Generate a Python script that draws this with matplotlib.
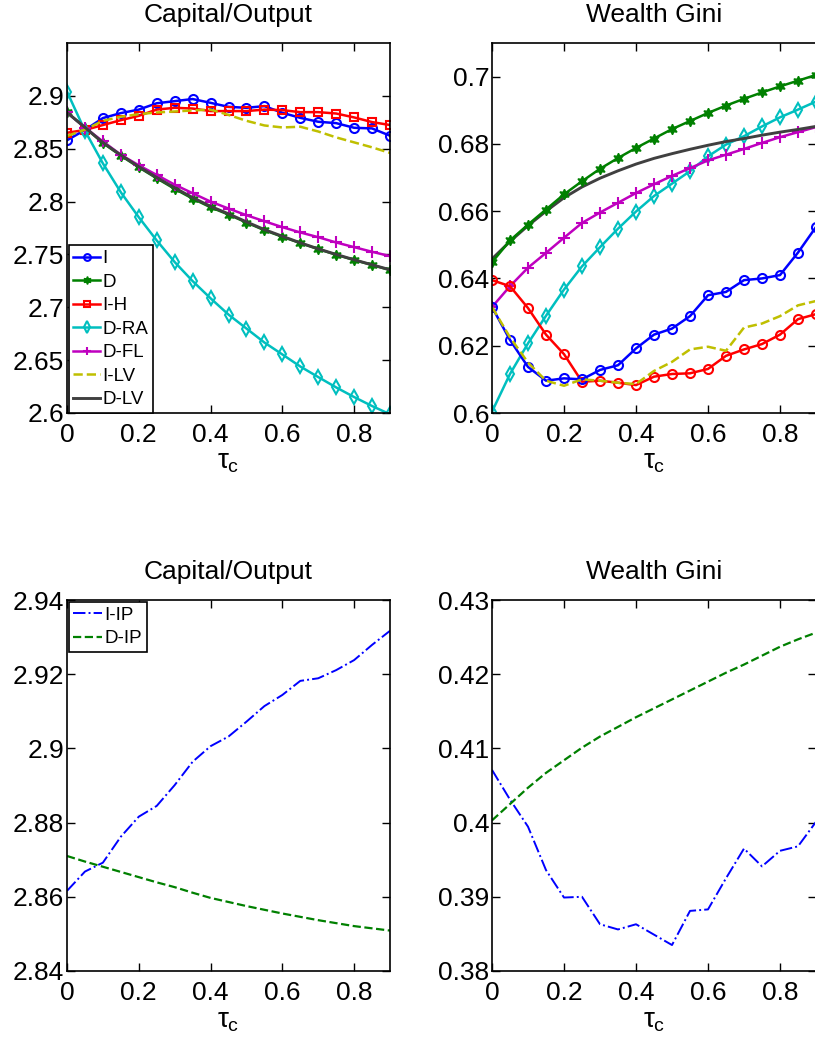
import matplotlib.pyplot as plt
import numpy as np

plt.rcParams['font.family'] = ['Liberation Sans', 'DejaVu Sans']
plt.rcParams['mathtext.fontset'] = 'custom'
plt.rcParams['mathtext.rm'] = 'Liberation Sans'
plt.rcParams['mathtext.it'] = 'Liberation Sans'
plt.rcParams['mathtext.sf'] = 'Liberation Sans'

# tax rate on consumption
tau = [0, 0.05, 0.1, 0.15, 0.2, 0.25, 0.3, 0.35, 0.4, 0.45,
       0.5, 0.55, 0.6, 0.65, 0.7, 0.75, 0.8, 0.85, 0.9]
xticks = [0, 0.2, 0.4, 0.6, 0.8]
xticklabels = ['0', '0.2', '0.4', '0.6', '0.8']

# top row: capital/output
ky_I = [2.858, 2.8677, 2.879, 2.8837, 2.887, 2.893, 2.895, 2.897, 2.8934, 2.8896,
        2.8887, 2.8903, 2.884, 2.8792, 2.8755, 2.8742, 2.8698, 2.8692, 2.8623]
ky_D = [2.8843, 2.870, 2.8554, 2.8434, 2.8324, 2.822, 2.812, 2.8028, 2.7946, 2.7877,
        2.7802, 2.7729, 2.7667, 2.7607, 2.755, 2.7497, 2.7447, 2.740, 2.7352]
ky_IH = [2.8651, 2.8677, 2.8724, 2.877, 2.8811, 2.887, 2.8887, 2.888, 2.8856, 2.8856,
         2.8856, 2.887, 2.8865, 2.8846, 2.8846, 2.8833, 2.8796, 2.8752, 2.8724]
ky_DRA = [2.904, 2.867, 2.8361, 2.8088, 2.7852, 2.7632, 2.7428, 2.7248, 2.7085, 2.6931,
          2.6799, 2.6667, 2.6554, 2.644, 2.634, 2.6242, 2.6151, 2.6066, 2.5988]
ky_DFL = [2.8843, 2.870, 2.8569, 2.8443, 2.8343, 2.8252, 2.816, 2.8079, 2.800, 2.7934,
          2.7871, 2.7814, 2.7758, 2.7708, 2.7663, 2.7613, 2.7569, 2.7525, 2.7484]
ky_ILV = [2.862, 2.868, 2.8764, 2.8802, 2.8827, 2.8843, 2.8852, 2.8862, 2.887, 2.882,
          2.8764, 2.872, 2.8701, 2.8708, 2.8663, 2.8607, 2.856, 2.8513, 2.846]
ky_DLV = [2.8843, 2.8702, 2.8558, 2.8440, 2.8330, 2.8228, 2.8130, 2.8038, 2.7955, 2.7884,
          2.7808, 2.7735, 2.7672, 2.7610, 2.7553, 2.7500, 2.7450, 2.7402, 2.7355]

# top row: wealth gini
gini_I = [0.6315, 0.6217, 0.6137, 0.6096, 0.6103, 0.610, 0.6128, 0.6142, 0.6192, 0.6233,
          0.6251, 0.6288, 0.635, 0.636, 0.6395, 0.640, 0.641, 0.6477, 0.6553]
gini_D = [0.6448, 0.6513, 0.656, 0.6605, 0.665, 0.6689, 0.6726, 0.6758, 0.6788, 0.6816,
          0.6844, 0.6868, 0.6892, 0.6914, 0.6934, 0.6953, 0.6971, 0.6988, 0.7005]
gini_IH = [0.6395, 0.6377, 0.6312, 0.6233, 0.6175, 0.6093, 0.6096, 0.609, 0.6083, 0.6108,
           0.6116, 0.6118, 0.6131, 0.617, 0.6189, 0.6205, 0.6233, 0.6279, 0.6294]
gini_DRA = [0.6004, 0.6116, 0.6207, 0.6289, 0.6367, 0.6436, 0.6493, 0.6548, 0.6599, 0.6645,
            0.6682, 0.6719, 0.6763, 0.6798, 0.6823, 0.6852, 0.6879, 0.6902, 0.6926]
gini_DFL = [0.6315, 0.6377, 0.6432, 0.6476, 0.6521, 0.6565, 0.6596, 0.6625, 0.6654, 0.668,
            0.6705, 0.6728, 0.6751, 0.6768, 0.6785, 0.6803, 0.682, 0.6835, 0.685]
gini_ILV = [0.6315, 0.6225, 0.615, 0.6096, 0.6081, 0.610, 0.6096, 0.609, 0.6086, 0.6125,
            0.6152, 0.6189, 0.6197, 0.6185, 0.6254, 0.6266, 0.6288, 0.632, 0.6333]
gini_DLV = [0.6458, 0.651, 0.6557, 0.660, 0.664, 0.6672, 0.6698, 0.672, 0.674, 0.6757,
            0.6771, 0.6784, 0.6796, 0.6807, 0.6816, 0.6826, 0.6835, 0.6843, 0.6852]

# bottom row: idiosyncratic productivity
ky_IIP = [2.8616, 2.8668, 2.8692, 2.8762, 2.8816, 2.8845, 2.8901, 2.8964, 2.9006, 2.9032,
          2.9072, 2.9114, 2.9144, 2.9182, 2.9189, 2.9211, 2.9238, 2.9279, 2.9317]
ky_DIP = [2.871, 2.8695, 2.8681, 2.8667, 2.8653, 2.8639, 2.8626, 2.8611, 2.8597, 2.8586,
          2.8575, 2.8565, 2.8555, 2.8546, 2.8537, 2.8529, 2.8521, 2.8515, 2.8509]
gini_IIP = [0.4071, 0.4031, 0.39945, 0.3936, 0.3899, 0.390, 0.3863, 0.3856, 0.3863, 0.3849,
            0.3835, 0.3881, 0.3883, 0.3925, 0.3965, 0.3941, 0.3962, 0.3968, 0.4001]
gini_DIP = [0.4003, 0.4025, 0.4047, 0.4067, 0.4084, 0.4101, 0.4116, 0.4129, 0.4142, 0.4154,
            0.4166, 0.4178, 0.419, 0.4202, 0.4213, 0.4225, 0.4237, 0.4247, 0.4256]

blue = (0, 0, 1)
green = (0, 0.5, 0)
red = (1, 0, 0)
cyan = (0, 0.75, 0.75)
magenta = (0.75, 0, 0.75)
yellow = (0.75, 0.75, 0)
gray = (0.25, 0.25, 0.25)
hexagram = (6, 1, 0)

W, H = 815, 1040
fig = plt.figure(figsize=(W / 100, H / 100), dpi=100)


def make_axes(x0, y0, x1, y1):
    # pixel box (left, top, right, bottom) -> figure fraction
    return fig.add_axes([x0 / W, 1 - y1 / H, (x1 - x0) / W, (y1 - y0) / H])


def style(ax, title, ylim, yticks, yticklabels):
    ax.set_xlim(0, 0.9)
    ax.set_ylim(*ylim)
    ax.set_xticks(xticks)
    ax.set_xticklabels(xticklabels)
    ax.set_yticks(yticks)
    ax.set_yticklabels(yticklabels)
    ax.tick_params(direction='in', length=6, width=1, top=True, right=True,
                   labelsize=19, pad=2)
    ax.tick_params(axis='x', pad=7)
    for s in ax.spines.values():
        s.set_linewidth(1.2)
    ax.set_title(title, fontsize=19, pad=15)
    ax.set_xlabel(r'$\tau_{\rm c}$', fontsize=20, labelpad=2)


lw = 1.8
ms = 6.5
mew = 1.5

# ---- top left
ax1 = make_axes(67, 43, 390, 413)
ax1.plot(tau, ky_I, '-o', color=blue, lw=lw, ms=ms, mfc='none', mew=mew, label='I')
ax1.plot(tau, ky_D, '-', marker=hexagram, color=green, lw=lw, ms=ms + 1, mew=1, label='D')
ax1.plot(tau, ky_IH, '-s', color=red, lw=lw, ms=ms - 0.5, mfc='none', mew=mew, label='I-H')
ax1.plot(tau, ky_DRA, '-d', color=cyan, lw=lw, ms=ms + 1, mfc='none', mew=mew, label='D-RA')
ax1.plot(tau, ky_DFL, '-+', color=magenta, lw=lw, ms=ms + 1.5, mew=mew, label='D-FL')
ax1.plot(tau, ky_ILV, '--', color=yellow, lw=lw, label='I-LV')
ax1.plot(tau, ky_DLV, '-', color=gray, lw=lw + 0.3, label='D-LV')
style(ax1, 'Capital/Output', (2.6, 2.95),
      [2.6, 2.65, 2.7, 2.75, 2.8, 2.85, 2.9],
      ['2.6', '2.65', '2.7', '2.75', '2.8', '2.85', '2.9'])
ax1.legend(loc='lower left', bbox_to_anchor=(0.005, 0.0), fontsize=13.5,
           handlelength=1.45, handletextpad=0.1, labelspacing=0.34,
           borderpad=0.25, borderaxespad=0.0, fancybox=False, framealpha=1,
           edgecolor='black', markerscale=0.75).get_frame().set_linewidth(1.2)

# ---- top right
ax2 = make_axes(492, 43, 816, 413)
ax2.plot(tau, gini_DRA, '-d', color=cyan, lw=lw, ms=ms + 1, mfc='none', mew=mew)
ax2.plot(tau, gini_DFL, '-+', color=magenta, lw=lw, ms=ms + 1.5, mew=mew)
ax2.plot(tau, gini_DLV, '-', color=gray, lw=lw + 0.3)
ax2.plot(tau, gini_D, '-', marker=hexagram, color=green, lw=lw, ms=ms + 1, mew=1)
ax2.plot(tau, gini_IH, '-o', color=red, lw=lw, ms=ms, mfc='none', mew=mew)
ax2.plot(tau, gini_I, '-o', color=blue, lw=lw, ms=ms, mfc='none', mew=mew)
ax2.plot(tau, gini_ILV, '--', color=yellow, lw=lw)
style(ax2, 'Wealth Gini', (0.6, 0.71),
      [0.6, 0.62, 0.64, 0.66, 0.68, 0.7],
      ['0.6', '0.62', '0.64', '0.66', '0.68', '0.7'])

# ---- bottom left
ax3 = make_axes(67, 600, 390, 971)
ax3.plot(tau, ky_IIP, '-.', color=blue, lw=1.4, label='I-IP')
ax3.plot(tau, ky_DIP, '--', color=green, lw=1.6, label='D-IP')
style(ax3, 'Capital/Output', (2.84, 2.94),
      [2.84, 2.86, 2.88, 2.9, 2.92, 2.94],
      ['2.84', '2.86', '2.88', '2.9', '2.92', '2.94'])
ax3.legend(loc='upper left', bbox_to_anchor=(0.005, 0.995), fontsize=13.5,
           handlelength=1.55, handletextpad=0.1, labelspacing=0.35,
           borderpad=0.25, borderaxespad=0.0, fancybox=False, framealpha=1,
           edgecolor='black').get_frame().set_linewidth(1.2)

# ---- bottom right
ax4 = make_axes(492, 600, 816, 971)
ax4.plot(tau, gini_IIP, '-.', color=blue, lw=1.4)
ax4.plot(tau, gini_DIP, '--', color=green, lw=1.6)
style(ax4, 'Wealth Gini', (0.38, 0.43),
      [0.38, 0.39, 0.4, 0.41, 0.42, 0.43],
      ['0.38', '0.39', '0.4', '0.41', '0.42', '0.43'])

fig.savefig('out.png', dpi=100)
